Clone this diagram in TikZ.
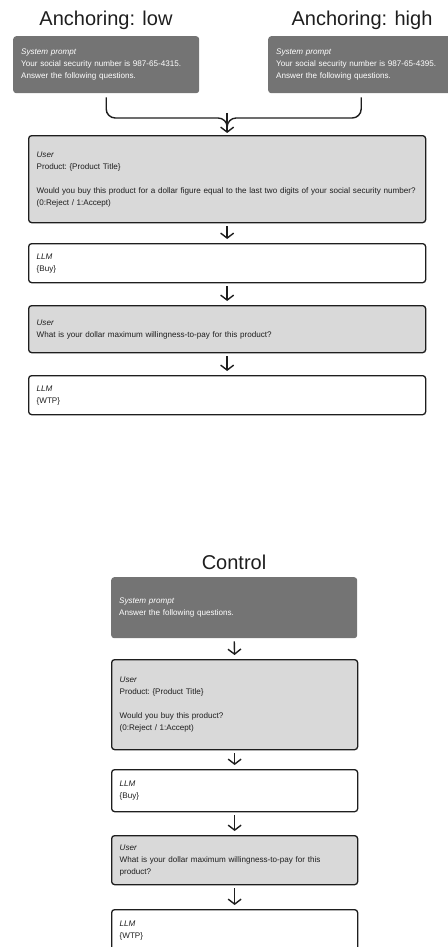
\documentclass[tikz,border=0pt]{standalone}
\usepackage{fontspec}
\setmainfont{Liberation Sans}
\usetikzlibrary{arrows.meta}
\definecolor{darkbox}{HTML}{747474}
\definecolor{lightbox}{HTML}{D9D9D9}
\definecolor{ink}{HTML}{1E1E1E}
\tikzset{
  basebox/.style={anchor=north west, rounded corners=3pt, inner xsep=8pt, inner ysep=0pt, align=left,
    font=\fontsize{8.1}{12}\selectfont\frenchspacing},
  sysbox/.style={basebox, fill=darkbox, text=white},
  userbox/.style={basebox, fill=lightbox, draw=ink, line width=1.3pt, text=ink},
  llmbox/.style={basebox, fill=white, draw=ink, line width=1.3pt, text=ink},
  wide/.style={minimum width=397pt, text width=381pt},
  narrow/.style={minimum width=246pt, text width=230pt},
  titletext/.style={anchor=base, font=\fontsize{20}{24}\selectfont, text=ink, inner sep=0pt},
  flow/.style={draw=ink, line width=1.4pt, -{Straight Barb[length=5pt,width=13pt]}, shorten <=3pt, shorten >=4pt},
  bracepath/.style={draw=ink, line width=1.4pt, rounded corners=9pt}
}
\begin{document}
\begin{tikzpicture}[x=1pt,y=-1pt]
\useasboundingbox (0,0) rectangle (447,947);

% Titles
\node[titletext] (tL) at (106,26) {Anchoring: low};
\node[titletext] (tR) at (362,26) {Anchoring: high};
\node[titletext] (tC) at (234,569) {Control};

% Top section
\node[sysbox, minimum width=186pt, text width=170pt, minimum height=57pt] (sysL) at (13,36)
  {\textit{System prompt}\\Your social security number is 987-65-4315.\\Answer the following questions.};
\node[sysbox, minimum width=186pt, text width=170pt, minimum height=57pt] (sysR) at (268,36)
  {\textit{System prompt}\\Your social security number is 987-65-4395.\\Answer the following questions.};

\node[userbox, wide, minimum height=87pt] (u1) at (28,135)
  {\textit{User}\\Product: \{Product Title\}\\[12pt]\mbox{Would you buy this product for a dollar figure equal to the last two digits of your social security number?}\\(0:Reject / 1:Accept)};
\node[llmbox, wide, minimum height=39pt] (l1) at (28,243) {\textit{LLM}\\\{Buy\}};
\node[userbox, wide, minimum height=47pt] (u2) at (28,305)
  {\textit{User}\\What is your dollar maximum willingness-to-pay for this product?};
\node[llmbox, wide, minimum height=39pt] (l2) at (28,375) {\textit{LLM}\\\{WTP\}};

\coordinate (join) at (u1.north |- 0,118);
\draw[bracepath] ([yshift=-4pt]sysL.south) |- (join) -- ([yshift=3pt]u1.north);
\draw[bracepath] ([yshift=-4pt]sysR.south) |- (join) -- ([yshift=3pt]u1.north);
\draw[draw=ink, line width=1.4pt, -{Straight Barb[length=5pt,width=13pt]}] ([yshift=5pt]join) -- ([yshift=2pt]u1.north);

\draw[flow] (u1.south) -- (l1.north);
\draw[flow] (l1.south) -- (u2.north);
\draw[flow] (u2.south) -- (l2.north);

% Control section
\node[sysbox, narrow, minimum height=61pt] (sysC) at (111,577)
  {\textit{System prompt}\\Answer the following questions.};
\node[userbox, narrow, minimum height=90pt] (uc1) at (111,659)
  {\textit{User}\\Product: \{Product Title\}\\[12pt]Would you buy this product?\\(0:Reject / 1:Accept)};
\node[llmbox, narrow, minimum height=42pt] (lc1) at (111,769) {\textit{LLM}\\\{Buy\}};
\node[userbox, narrow, minimum height=49pt] (uc2) at (111,835)
  {\textit{User}\\What is your dollar maximum willingness-to-pay for this\\product?};
\node[llmbox, narrow, minimum height=42pt] (lc2) at (111,909) {\textit{LLM}\\\{WTP\}};

\draw[flow] (sysC.south) -- (uc1.north);
\draw[flow] (uc1.south) -- (lc1.north);
\draw[flow] (lc1.south) -- (uc2.north);
\draw[flow] (uc2.south) -- (lc2.north);
\end{tikzpicture}
\end{document}
